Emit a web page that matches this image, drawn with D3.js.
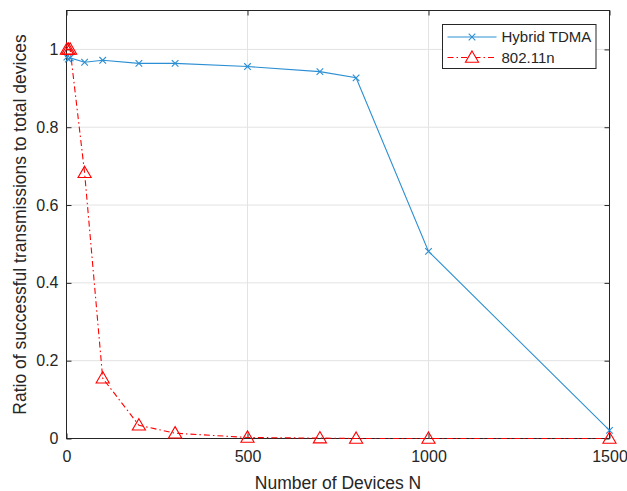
<!DOCTYPE html>
<html lang="en">
<head>
  <meta charset="UTF-8" />
  <title>Ratio of successful transmissions</title>
  <script src="https://d3js.org/d3.v7.min.js"></script>
  <style>
    body { margin: 0; background: #fff; }
    svg { display: block; font-family: "Liberation Sans", Arial, sans-serif; }
  </style>
</head>
<body>
  <div id="chart"></div>
  <script>
    const devices = [1, 5, 10, 50, 100, 200, 300, 500, 700, 800, 1000, 1500];
    const hybridTdma = [0.98, 0.975, 0.978, 0.967, 0.972, 0.964, 0.964, 0.956, 0.943, 0.927, 0.481, 0.021];
    const wifi80211n = [1.0, 1.0, 1.0, 0.683, 0.155, 0.034, 0.0136, 0.0026, 0.001, 0, 0, 0];
    const xTicks = [0, 500, 1000, 1500];
    const yTicks = [0, 0.2, 0.4, 0.6, 0.8, 1];

    const width = 627, height = 491;
    const margin = { top: 10.5, right: 17.5, bottom: 52.5, left: 66.5 };
    const iw = width - margin.left - margin.right;
    const ih = height - margin.top - margin.bottom;

    const x = d3.scaleLinear().domain([0, 1500]).range([0, iw]);
    const y = d3.scaleLinear().domain([0, 1.1]).range([ih, 0]);

    const svg = d3.select("#chart").append("svg")
      .attr("width", width).attr("height", height);
    const g = svg.append("g").attr("transform", `translate(${margin.left},${margin.top})`);

    // grid
    g.append("g").selectAll("line").data(xTicks).join("line")
      .attr("x1", d => x(d)).attr("x2", d => x(d)).attr("y1", 0).attr("y2", ih)
      .attr("stroke", "#e3e3e3");
    g.append("g").selectAll("line").data(yTicks).join("line")
      .attr("x1", 0).attr("x2", iw).attr("y1", d => y(d)).attr("y2", d => y(d))
      .attr("stroke", "#e3e3e3");

    const axisColor = "#262626";
    function styleAxis(sel) {
      sel.select(".domain").remove();
      sel.selectAll("line").attr("stroke", axisColor);
      sel.selectAll("text").attr("fill", axisColor).attr("font-size", 16)
        .attr("font-family", "Liberation Sans, Arial, sans-serif");
    }
    g.append("g").attr("transform", `translate(0,${ih})`)
      .call(d3.axisBottom(x).tickValues(xTicks).tickSize(-5).tickPadding(12.5).tickFormat(d3.format("d")))
      .call(styleAxis);
    g.append("g")
      .call(d3.axisTop(x).tickValues(xTicks).tickSize(-5).tickFormat(""))
      .call(styleAxis);
    g.append("g")
      .call(d3.axisLeft(y).tickValues(yTicks).tickSize(-5).tickPadding(8).tickFormat(d => d === 0 || d === 1 ? d3.format("d")(d) : d3.format(".1f")(d)))
      .call(styleAxis);
    g.append("g").attr("transform", `translate(${iw},0)`)
      .call(d3.axisRight(y).tickValues(yTicks).tickSize(-5).tickFormat(""))
      .call(styleAxis);

    g.append("rect").attr("width", iw).attr("height", ih)
      .attr("fill", "none").attr("stroke", axisColor).attr("stroke-width", 1);

    const blue = "#2c8fd3", red = "#ff0000";
    const line = d3.line().x(d => x(d[0])).y(d => y(d[1]));
    const hyb = devices.map((d, i) => [d, hybridTdma[i]]);
    const wifi = devices.map((d, i) => [d, wifi80211n[i]]);

    const plot = g.append("g");
    plot.append("path").datum(hyb).attr("d", line)
      .attr("fill", "none").attr("stroke", blue).attr("stroke-width", 1.1);
    plot.append("path").datum(wifi).attr("d", line)
      .attr("fill", "none").attr("stroke", red).attr("stroke-width", 1.1)
      .attr("stroke-dasharray", "6,3,1.5,3");

    const cross = d3.symbol().type(d3.symbolX).size(30);
    const tri = d3.symbol().type(d3.symbolTriangle).size(75);
    plot.append("g").selectAll("path").data(hyb).join("path")
      .attr("transform", d => `translate(${x(d[0])},${y(d[1])})`)
      .attr("d", cross).attr("fill", "none").attr("stroke", blue).attr("stroke-width", 1.1);
    plot.append("g").selectAll("path").data(wifi).join("path")
      .attr("transform", d => `translate(${x(d[0])},${y(d[1]) + 1})`)
      .attr("d", tri).attr("fill", "none").attr("stroke", red).attr("stroke-width", 1.1);

    // legend
    const lg = svg.append("g").attr("transform", "translate(442.5,24.5)");
    lg.append("rect").attr("width", 153.5).attr("height", 44)
      .attr("fill", "#fff").attr("stroke", axisColor);
    const items = [
      { name: "Hybrid TDMA", color: blue, dash: null, sym: cross, dy: 0 },
      { name: "802.11n", color: red, dash: "6,3,1.5,3", sym: tri, dy: 1 }
    ];
    items.forEach((it, i) => {
      const cy = 12.5 + i * 20.5;
      lg.append("line").attr("x1", 5).attr("x2", 54).attr("y1", cy).attr("y2", cy)
        .attr("stroke", it.color).attr("stroke-width", 1.1)
        .attr("stroke-dasharray", it.dash);
      lg.append("path").attr("d", it.sym).attr("transform", `translate(29.5,${cy + it.dy})`)
        .attr("fill", "#fff").attr("stroke", it.color).attr("stroke-width", 1.1);
      lg.append("text").attr("x", 59).attr("y", cy).attr("dy", "0.35em")
        .attr("font-size", 15).attr("fill", axisColor).text(it.name);
    });

    // axis labels
    svg.append("text").attr("x", margin.left + iw / 2).attr("y", 488.5)
      .attr("text-anchor", "middle").attr("font-size", 17.5).attr("fill", axisColor)
      .text("Number of Devices N");
    svg.append("text").attr("transform", `translate(26,${margin.top + ih / 2}) rotate(-90)`)
      .attr("text-anchor", "middle").attr("font-size", 17.5).attr("fill", axisColor)
      .text("Ratio of successful transmissions to total devices");
  </script>
</body>
</html>
